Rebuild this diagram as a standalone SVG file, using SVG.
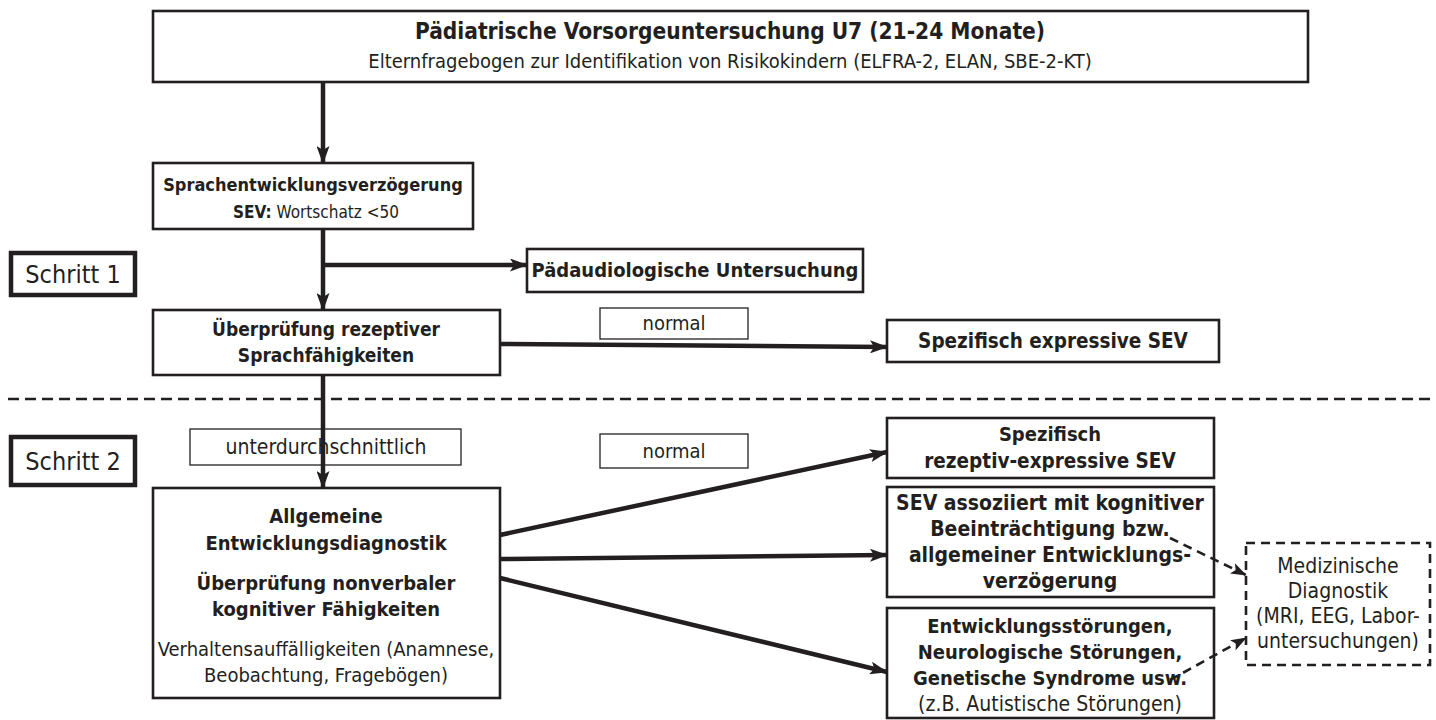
<svg xmlns="http://www.w3.org/2000/svg" width="1436" height="720" viewBox="0 0 1436 720">
<style>
text{font-family:"DejaVu Sans Condensed","Liberation Sans",sans-serif;fill:#231f20;text-anchor:middle}
.b{font-weight:bold}
.box{fill:#fff;stroke:#231f20;stroke-width:2.6}
.thick{fill:#fff;stroke:#231f20;stroke-width:4.5}
.lbl{fill:#fff;stroke:#231f20;stroke-width:1.3}
.con{stroke:#231f20;stroke-width:4.5;fill:none}
.sep{stroke:#231f20;stroke-width:2.6;fill:none;stroke-dasharray:11 6}
.dash{stroke:#231f20;stroke-width:2.6;fill:none;stroke-dasharray:9 6}
</style>
<defs>
<marker id="ah" viewBox="0 0 18 13" refX="17" refY="6.5" markerWidth="18" markerHeight="13" orient="auto" markerUnits="userSpaceOnUse"><path d="M0,0 L18,6.5 L0,13 L4,6.5 Z" fill="#231f20"/></marker>
<marker id="ahd" viewBox="0 0 18 13" refX="17" refY="6.5" markerWidth="16" markerHeight="12" orient="auto" markerUnits="userSpaceOnUse"><path d="M0,0 L18,6.5 L0,13 L4,6.5 Z" fill="#231f20"/></marker>
</defs>
<g id="top"><rect class="box" x="153" y="11" width="1155" height="71"/>
<text class="b" x="730" y="39" font-size="22.5">Pädiatrische Vorsorgeuntersuchung U7 (21-24 Monate)</text>
<text x="730" y="68" font-size="20">Elternfragebogen zur Identifikation von Risikokindern (ELFRA-2, ELAN, SBE-2-KT)</text></g>
<g id="sev"><rect class="box" x="153" y="163" width="320" height="66"/>
<text class="b" x="313" y="191" font-size="18">Sprachentwicklungsverzögerung</text>
<text x="316" y="218" font-size="17"><tspan class="b">SEV:</tspan> Wortschatz &lt;50</text></g>
<g id="schritt1"><rect class="thick" x="11" y="253" width="124" height="42"/>
<text x="73" y="283" font-size="25">Schritt 1</text></g>
<g id="paed"><rect class="box" x="527" y="249" width="336" height="43"/>
<text class="b" x="695" y="277" font-size="20">Pädaudiologische Untersuchung</text></g>
<g id="ueber"><rect class="box" x="153" y="310" width="347" height="65"/>
<text class="b" x="326" y="336" font-size="19">Überprüfung rezeptiver</text>
<text class="b" x="326" y="362" font-size="19">Sprachfähigkeiten</text></g>
<g id="spexp"><rect class="box" x="887" y="320" width="332" height="42"/>
<text class="b" x="1053" y="348" font-size="20.5">Spezifisch expressive SEV</text></g>
<g id="schritt2"><rect class="thick" x="11" y="437" width="124" height="48"/>
<text x="73" y="470" font-size="25">Schritt 2</text></g>
<g id="lbl_normal1"><rect class="lbl" x="600" y="308" width="148" height="31"/>
<text x="674" y="330" font-size="20">normal</text></g>
<g id="lbl_unter"><rect class="lbl" x="190" y="429" width="271" height="36"/>
<text x="326" y="454" font-size="21">unterdurchschnittlich</text></g>
<g id="lbl_normal2"><rect class="lbl" x="600" y="434" width="148" height="34"/>
<text x="674" y="458" font-size="20">normal</text></g>
<g id="allg"><rect class="box" x="153" y="488" width="347" height="210"/>
<text class="b" x="326" y="523" font-size="20">Allgemeine</text>
<text class="b" x="326" y="550" font-size="20">Entwicklungsdiagnostik</text>
<text class="b" x="326" y="590" font-size="20">Überprüfung nonverbaler</text>
<text class="b" x="326" y="616" font-size="20">kognitiver Fähigkeiten</text>
<text x="326" y="656" font-size="20">Verhaltensauffälligkeiten (Anamnese,</text>
<text x="326" y="682" font-size="20">Beobachtung, Fragebögen)</text></g>
<g id="sprez"><rect class="box" x="887" y="418" width="327" height="60"/>
<text class="b" x="1050" y="441" font-size="20">Spezifisch</text>
<text class="b" x="1050" y="468" font-size="20.5">rezeptiv-expressive SEV</text></g>
<g id="sevass"><rect class="box" x="887" y="487" width="327" height="110"/>
<text class="b" x="1050" y="510" font-size="21">SEV assoziiert mit kognitiver</text>
<text class="b" x="1050" y="536" font-size="21">Beeinträchtigung bzw.</text>
<text class="b" x="1050" y="562" font-size="21">allgemeiner Entwicklungs-</text>
<text class="b" x="1050" y="588" font-size="21">verzögerung</text></g>
<g id="entw"><rect class="box" x="887" y="608" width="327" height="110"/>
<text class="b" x="1050" y="633" font-size="20">Entwicklungsstörungen,</text>
<text class="b" x="1050" y="659" font-size="20">Neurologische Störungen,</text>
<text class="b" x="1050" y="685" font-size="20">Genetische Syndrome usw.</text>
<text x="1050" y="711" font-size="21">(z.B. Autistische Störungen)</text></g>
<g id="med"><rect class="dash" x="1246" y="543" width="184" height="122"/>
<text x="1338" y="573" font-size="21">Medizinische</text>
<text x="1338" y="598" font-size="21">Diagnostik</text>
<text x="1338" y="623" font-size="21">(MRI, EEG, Labor-</text>
<text x="1338" y="648" font-size="21">untersuchungen)</text></g>
<g id="connectors">
<line class="sep" x1="8" y1="399" x2="1430" y2="399"/>
<line class="con" x1="323" y1="82" x2="323" y2="163" marker-end="url(#ah)"/>
<line class="con" x1="323" y1="229" x2="323" y2="310" marker-end="url(#ah)"/>
<line class="con" x1="323" y1="265" x2="527" y2="265" marker-end="url(#ah)"/>
<line class="con" x1="500" y1="344" x2="887" y2="347" marker-end="url(#ah)"/>
<line class="con" x1="323" y1="375" x2="323" y2="488" marker-end="url(#ah)"/>
<line class="con" x1="500" y1="535" x2="887" y2="452" marker-end="url(#ah)"/>
<line class="con" x1="500" y1="559" x2="887" y2="555" marker-end="url(#ah)"/>
<line class="con" x1="500" y1="578" x2="887" y2="672" marker-end="url(#ah)"/>
<line class="dash" x1="1170" y1="538" x2="1246" y2="575" marker-end="url(#ahd)"/>
<line class="dash" x1="1170" y1="680" x2="1246" y2="638" marker-end="url(#ahd)"/>
</g>
</svg>
